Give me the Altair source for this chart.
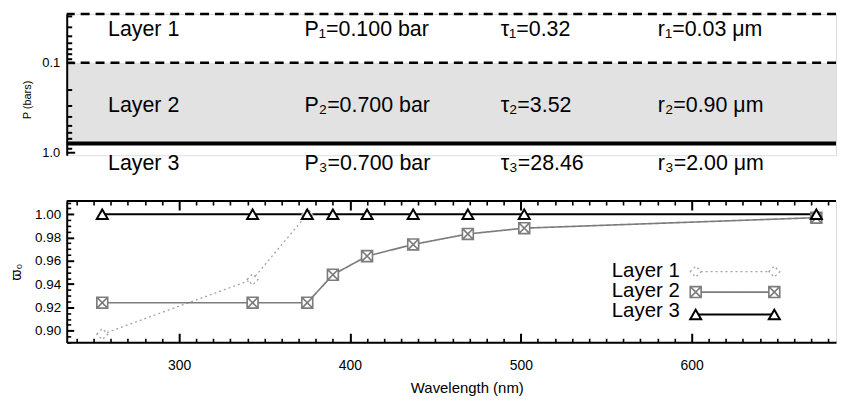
import altair as alt
import pandas as pd

FONT = "Liberation Sans"

# ---------------- data: top panel (cloud layer structure) ----------------
layer_names = ["Layer 1", "Layer 2", "Layer 3"]
pressure_text = ["P₁=0.100 bar", "P₂=0.700 bar", "P₃=0.700 bar"]
tau_text = ["τ₁=0.32", "τ₂=3.52", "τ₃=28.46"]
radius_text = ["r₁=0.03 μm", "r₂=0.90 μm", "r₃=2.00 μm"]
layer_top_p = [0.02855, 0.1, 0.8]      # bar
layer_bottom_p = [0.1, 0.8, 1.5]       # bar

# ---------------- data: bottom panel (single scattering albedo) ----------------
wavelength = [255, 343, 375, 390, 410, 437, 469, 502, 673]
w0_layer1 = [0.897, 0.944, 1.000]
w0_layer2 = [0.924, 0.924, 0.924, 0.948, 0.964, 0.974, 0.983, 0.988, 0.997]
w0_layer3 = [1.000, 1.000, 1.000, 1.000, 1.000, 1.000, 1.000, 1.000, 1.000]

# axis tick values
p_ticks = [0.03, 0.04, 0.05, 0.06, 0.07, 0.08, 0.09, 0.1,
           0.2, 0.3, 0.4, 0.5, 0.6, 0.7, 0.8, 0.9, 1.0]
wl_ticks = list(range(240, 690, 10))
w0_ticks = [round(0.890 + 0.005 * i, 3) for i in range(25)]

# ---------------- layout / style constants ----------------
W = 773
H_TOP = 142
H_BOT = 142
P_DOMAIN = [0.02855, 1.08]
WL_DOMAIN = [234.2, 684.5]
W0_DOMAIN = [0.890, 1.0113]
TEXT_ROW_P = [0.043, 0.301, 1.36]
TEXT_COL_X = [41.5, 239, 436, 594]
TOP_FS = 21.5
LEG_TEXT_X = 616
LEG_X1, LEG_X2 = 632, 711
LEG_TEXT_Y = [70, 90.5, 111]
LEG_SYM_Y = [71, 91.5, 114]
BOXX = "M-1,-1L1,-1L1,1L-1,1Z M-1,-1L1,1 M-1,1L1,-1"

# ---------------- top panel ----------------
top_df = pd.DataFrame({
    "layer": layer_names,
    "ptext": pressure_text,
    "tau": tau_text,
    "r": radius_text,
    "p_top": layer_top_p,
    "p_bottom": layer_bottom_p,
    "row_p": TEXT_ROW_P,
})

is_p_major = "abs(datum.value-0.1)<1e-6 || abs(datum.value-1)<1e-6"
top_scale = alt.Scale(type="log", domain=P_DOMAIN, reverse=True, nice=False)
top_axis = alt.Axis(
    values=p_ticks,
    labelExpr="abs(datum.value-0.1)<1e-6 ? '0.1' : (abs(datum.value-1)<1e-6 ? '1.0' : '')",
    ticks=False, grid=True, gridColor="black", gridOpacity=1,
    gridDash={"condition": {"test": is_p_major, "value": [8, 3000]}, "value": [5, 3000]},
    gridWidth=2,
    domain=True, domainColor="black", domainWidth=2,
    labelFont=FONT, labelFontSize=13, labelColor="black", labelPadding=7,
    labelOverlap=False, labelFlush=False,
    titleFont=FONT, titleFontSize=11, titleFontWeight="normal", titleColor="black",
    titleAngle=270, titleAlign="center", titleBaseline="middle", titleX=-39, titleY=86,
    zindex=1,
)


def ytop(field):
    return alt.Y(field, type="quantitative", scale=top_scale, axis=top_axis, title="P (bars)")


top_base = alt.Chart(top_df)

shade = top_base.transform_filter(alt.datum.layer == "Layer 2").mark_rect(color="#e2e2e2").encode(
    x=alt.value(0), x2=alt.value(W), y=ytop("p_top"), y2="p_bottom:Q")

dashed = top_base.transform_filter(
    alt.FieldOneOfPredicate(field="layer", oneOf=["Layer 1", "Layer 2"])
).mark_rule(color="black", strokeWidth=2.5, strokeDash=[9, 6]).encode(y=ytop("p_top"))

solid = top_base.transform_filter(alt.datum.layer == "Layer 3").mark_rule(
    color="black", strokeWidth=4).encode(y=ytop("p_top"))

texts = []
for col_x, field in zip(TEXT_COL_X, ["layer", "ptext", "tau", "r"]):
    texts.append(top_base.mark_text(
        align="left", baseline="middle", font=FONT, fontSize=TOP_FS, color="black"
    ).encode(x=alt.value(col_x), y=ytop("row_p"), text=f"{field}:N"))

top = alt.layer(shade, dashed, solid, *texts).properties(width=W, height=H_TOP)

# ---------------- bottom panel ----------------
rows = []
for name, vals in zip(layer_names, [w0_layer1, w0_layer2, w0_layer3]):
    for wl, v in zip(wavelength, vals):
        rows.append({"layer": name, "wl": wl, "w0": v})
bot_df = pd.DataFrame(rows)

x_axis = alt.Axis(
    values=wl_ticks, format="d",
    labelExpr="datum.value % 100 === 0 ? datum.label : ''",
    ticks=False, grid=True, gridColor="black", gridOpacity=1,
    gridDash={"condition": {"test": "datum.value % 100 === 0", "value": [9, H_BOT - 18, 9, 3000]},
              "value": [4, H_BOT - 8, 4, 3000]},
    gridWidth={"condition": {"test": "datum.value % 100 === 0", "value": 2}, "value": 1.6},
    domain=True, domainColor="black", domainWidth=2,
    labelFont=FONT, labelFontSize=14, labelColor="black", labelPadding=16,
    labelOverlap=False, labelFlush=False,
    titleFont=FONT, titleFontSize=15, titleFontWeight="normal", titleColor="black",
    titlePadding=8, titleX=402, titleAlign="center", zindex=1,
)
is_w_major = "round(datum.value*1000) % 20 === 0"
y_axis = alt.Axis(
    values=w0_ticks, format=".2f",
    labelExpr=f"{is_w_major} ? datum.label : ''",
    ticks=False, grid=True, gridColor="black", gridOpacity=1,
    gridDash={"condition": {"test": is_w_major, "value": [7, 3000]}, "value": [4, 3000]},
    gridWidth={"condition": {"test": is_w_major, "value": 2}, "value": 1.6},
    domain=True, domainColor="black", domainWidth=2,
    labelFont=FONT, labelFontSize=13.5, labelColor="black", labelPadding=6,
    labelOverlap=False, labelFlush=False,
    titleFont=FONT, titleFontSize=14, titleFontWeight="normal", titleColor="black",
    titleAngle=270, titleAlign="center", titleBaseline="middle", titleX=-50, titleY=71,
    zindex=1,
)

X = alt.X("wl:Q", scale=alt.Scale(domain=WL_DOMAIN, nice=False, zero=False), axis=x_axis,
          title="Wavelength (nm)")
Y = alt.Y("w0:Q", scale=alt.Scale(domain=W0_DOMAIN, nice=False, zero=False), axis=y_axis,
          title="ϖ₀")

COLOR = alt.Color("layer:N", scale=alt.Scale(domain=layer_names, range=["#a3a3a3", "#7c7c7c", "#000000"]), legend=None)
DASH = alt.StrokeDash("layer:N", scale=alt.Scale(domain=layer_names, range=[[2, 3], [1, 0], [1, 0]]), legend=None)
SW = alt.StrokeWidth("layer:N", scale=alt.Scale(domain=layer_names, range=[1.3, 2.0, 2.5]), legend=None)
SHAPE = alt.Shape("layer:N", scale=alt.Scale(domain=layer_names, range=["diamond", BOXX, "triangle-up"]), legend=None)
SIZE = alt.Size("layer:N", scale=alt.Scale(domain=layer_names, range=[120, 120, 200]), legend=None)

bot_base = alt.Chart(bot_df)
lines = bot_base.mark_line().encode(x=X, y=Y, color=COLOR, strokeDash=DASH, strokeWidth=SW, detail="layer:N")
points = bot_base.mark_point(filled=False, fill="white", opacity=1).encode(
    x=X, y=Y, color=COLOR, strokeDash=DASH, strokeWidth=SW, shape=SHAPE, size=SIZE)

top_border = alt.Chart(pd.DataFrame({"w0": [W0_DOMAIN[1]]})).mark_rule(
    color="black", strokeWidth=2).encode(y=Y)

leg_df = pd.DataFrame({"layer": layer_names})
legend_layers = []
for i, name in enumerate(layer_names):
    d = alt.Chart(leg_df).transform_filter(alt.datum.layer == name)
    legend_layers.append(d.mark_text(align="right", baseline="middle", font=FONT, fontSize=20.5,
                                     color="black").encode(
        x=alt.value(LEG_TEXT_X), y=alt.value(LEG_TEXT_Y[i]), text="layer:N"))
    legend_layers.append(d.mark_rule().encode(
        x=alt.value(LEG_X1), x2=alt.value(LEG_X2), y=alt.value(LEG_SYM_Y[i]),
        color=COLOR, strokeDash=DASH, strokeWidth=SW))
    for xx in (LEG_X1, LEG_X2):
        legend_layers.append(d.mark_point(filled=False, fill="white", opacity=1).encode(
            x=alt.value(xx), y=alt.value(LEG_SYM_Y[i]),
            color=COLOR, strokeDash=DASH, strokeWidth=SW, shape=SHAPE, size=SIZE))

bottom = alt.layer(lines, points, top_border, *legend_layers).properties(width=W, height=H_BOT)

chart = alt.vconcat(top, bottom, spacing=19).properties(
    padding={"left": 1, "right": 0, "top": 0, "bottom": 0}
).configure_view(stroke=None).configure(font=FONT)

chart.save("out.html", embed_options={"renderer": "svg", "actions": False})
